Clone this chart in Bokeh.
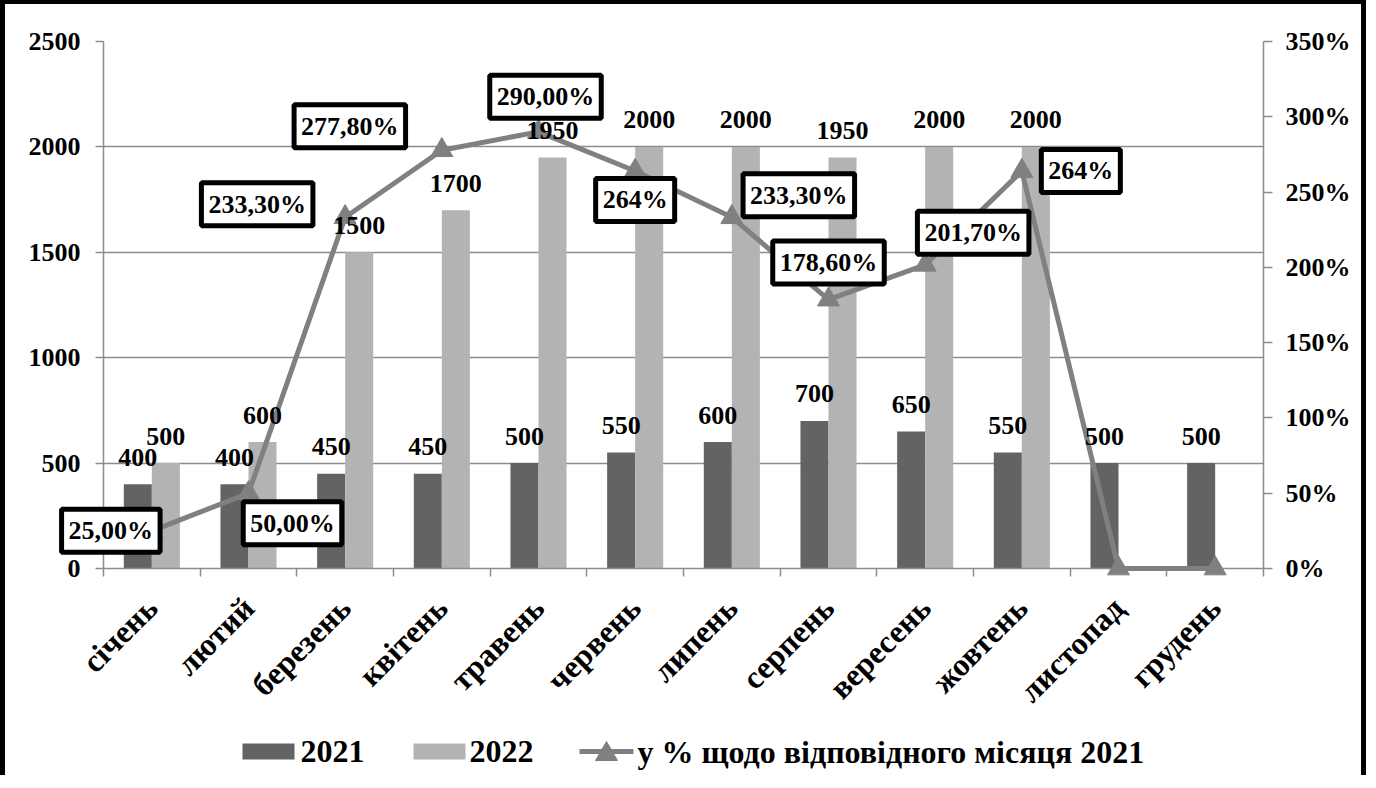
from bokeh.plotting import figure
from bokeh.models import (Range1d, LinearAxis, FixedTicker, PrintfTickFormatter,
                          ColumnDataSource)
from bokeh.transform import dodge
from bokeh.core.properties import value
from bokeh.embed import file_html
from bokeh.resources import INLINE
import math

# ---------------- data ----------------
months = ["січень", "лютий", "березень", "квітень", "травень", "червень",
          "липень", "серпень", "вересень", "жовтень", "листопад", "грудень"]
v2021 = [400, 400, 450, 450, 500, 550, 600, 700, 650, 550, 500, 500]
v2022 = [500, 600, 1500, 1700, 1950, 2000, 2000, 1950, 2000, 2000, None, None]
pct = [25.0, 50.0, 233.3, 277.8, 290.0, 264.0, 233.3, 178.6, 201.7, 264.0, 0.0, 0.0]
pct_labels = ["25,00%", "50,00%", "233,30%", "277,80%", "290,00%", "264%",
              "233,30%", "178,60%", "201,70%", "264%", "", ""]
left_ticks = [0, 500, 1000, 1500, 2000, 2500]
right_ticks = [0, 50, 100, 150, 200, 250, 300, 350]
series_names = ["2021", "2022", "у % щодо відповідного місяця 2021"]

# label placement (screen px offsets from the data point)
lbl_dx = [-41, 44, -88, -92, 7, 0, 67, 0, 48, 59, 0, 0]
lbl_dy = [0, 30, -13, -24, -35, 29, -22, -37, -32, 0, 0, 0]

FONT = "Liberation Serif"
C2021 = "#636363"
C2022 = "#b3b3b3"
CLINE = "#808080"
CAXIS = "#8c8c8c"

W, H = 1366, 775
MB_L, MB_R, MB_T, MB_B = 98, 108, 37, 211
FW, FH = W - MB_L - MB_R, H - MB_T - MB_B   # frame size in px

xc = [i + 0.5 for i in range(len(months))]

src21 = ColumnDataSource(dict(x=xc, top=v2021, lab=[str(v) for v in v2021]))
idx22 = [i for i, v in enumerate(v2022) if v is not None]
src22 = ColumnDataSource(dict(x=[xc[i] for i in idx22], top=[v2022[i] for i in idx22],
                              lab=[str(v2022[i]) for i in idx22]))
srcp = ColumnDataSource(dict(x=xc, y=pct))
idxp = [i for i, t in enumerate(pct_labels) if t]
srcpl = ColumnDataSource(dict(x=[xc[i] for i in idxp], y=[pct[i] for i in idxp],
                              lab=[pct_labels[i] for i in idxp],
                              dx=[lbl_dx[i] for i in idxp], dy=[lbl_dy[i] for i in idxp]))

p = figure(width=W, height=H, output_backend="svg", toolbar_location=None,
           x_range=Range1d(0, 12), y_range=Range1d(0, 2500),
           min_border_left=MB_L, min_border_right=MB_R, min_border_top=MB_T,
           min_border_bottom=MB_B)
p.styles = {"border-top": "4px solid black", "border-left": "5px solid black",
            "border-right": "5px solid black"}
p.outline_line_color = None
p.background_fill_color = "white"
p.border_fill_color = "white"
p.xgrid.visible = False
p.ygrid.grid_line_color = CAXIS
p.ygrid.grid_line_width = 1.5
p.ygrid.ticker = FixedTicker(ticks=left_ticks)

# left axis
ya = p.yaxis[0]
ya.ticker = FixedTicker(ticks=left_ticks)
ya.axis_line_color = CAXIS
ya.axis_line_width = 1.5
ya.major_tick_line_color = CAXIS
ya.major_tick_line_width = 1.5
ya.major_tick_in = 0
ya.major_tick_out = 8
ya.minor_tick_line_color = None
ya.major_label_standoff = 15
ya.major_label_text_font = FONT
ya.major_label_text_font_style = "bold"
ya.major_label_text_font_size = "26px"
ya.major_label_text_color = "black"

# right axis
p.extra_y_ranges = {"pct": Range1d(0, 350), "px": Range1d(0, FH)}
p.extra_x_ranges = {"px": Range1d(0, FW)}
ra = LinearAxis(y_range_name="pct", ticker=FixedTicker(ticks=right_ticks),
                formatter=PrintfTickFormatter(format="%d%%"))
ra.axis_line_color = CAXIS
ra.axis_line_width = 1.5
ra.major_tick_line_color = CAXIS
ra.major_tick_line_width = 1.5
ra.major_tick_in = 0
ra.major_tick_out = 9
ra.minor_tick_line_color = None
ra.major_label_standoff = 13
ra.major_label_text_font = FONT
ra.major_label_text_font_style = "bold"
ra.major_label_text_font_size = "26px"
ra.major_label_text_color = "black"
p.add_layout(ra, "right")

# x axis
xa = p.xaxis[0]
xa.ticker = FixedTicker(ticks=xc, minor_ticks=list(range(len(months) + 1)))
xa.major_label_overrides = {x: m for x, m in zip(xc, months)}
xa.major_label_orientation = math.pi / 4
xa.major_tick_line_color = None
xa.minor_tick_line_color = CAXIS
xa.minor_tick_line_width = 1.5
xa.minor_tick_in = 0
xa.minor_tick_out = 8
xa.axis_line_color = CAXIS
xa.axis_line_width = 1.5
xa.major_label_standoff = 26
xa.major_label_text_font = FONT
xa.major_label_text_font_style = "bold"
xa.major_label_text_font_size = "32px"
xa.major_label_text_color = "black"

BW = 0.29
p.vbar(x=dodge("x", -BW / 2, range=p.x_range), top="top", bottom=0, width=BW,
       source=src21, fill_color=C2021, line_color=None)
p.vbar(x=dodge("x", BW / 2, range=p.x_range), top="top", bottom=0, width=BW,
       source=src22, fill_color=C2022, line_color=None)

p.line("x", "y", source=srcp, y_range_name="pct", line_color=CLINE, line_width=5,
       level="overlay")
p.scatter("x", "y", source=srcp, y_range_name="pct", marker="triangle", size=22,
          fill_color=CLINE, line_color=CLINE, level="overlay")

# bar value labels
for src, d in ((src21, -BW / 2), (src22, BW / 2)):
    p.text(x=dodge("x", d, range=p.x_range), y="top", text="lab", source=src,
           text_align="center", text_baseline="middle", y_offset=-27, level="overlay",
           text_font=value(FONT), text_font_style="bold", text_font_size="26px",
           text_color="black")

# percentage labels with boxes
p.text(x="x", y="y", text="lab", source=srcpl, y_range_name="pct",
       x_offset="dx", y_offset="dy", level="overlay",
       text_align="center", text_baseline="middle",
       text_font=value(FONT), text_font_style="bold", text_font_size="26px",
       text_color="black", background_fill_color="white",
       border_line_color="black", border_line_width=5, padding=(7, 7))

# ---- legend (drawn below the frame, in a pixel-based coordinate system) ----
LEG_Y = -183                     # px below the frame bottom
p.rect(x=[165, 336], y=[LEG_Y] * 2, width=52, height=16, fill_color=[C2021, C2022],
       line_color=None, x_range_name="px", y_range_name="px", level="overlay")
p.line(x=[476, 530], y=[LEG_Y, LEG_Y], line_color=CLINE, line_width=5,
       x_range_name="px", y_range_name="px", level="overlay")
p.patch(x=[492, 503, 514], y=[LEG_Y - 9, LEG_Y + 10, LEG_Y - 9], fill_color=CLINE,
        line_color=CLINE, x_range_name="px", y_range_name="px", level="overlay")
p.text(x=[197, 366, 534], y=[LEG_Y] * 3, text=series_names,
       x_range_name="px", y_range_name="px", level="overlay",
       text_align="left", text_baseline="middle",
       text_font=value(FONT), text_font_style="bold", text_font_size="32px",
       text_color="black")

open("out.html", "w").write(file_html(p, INLINE))
